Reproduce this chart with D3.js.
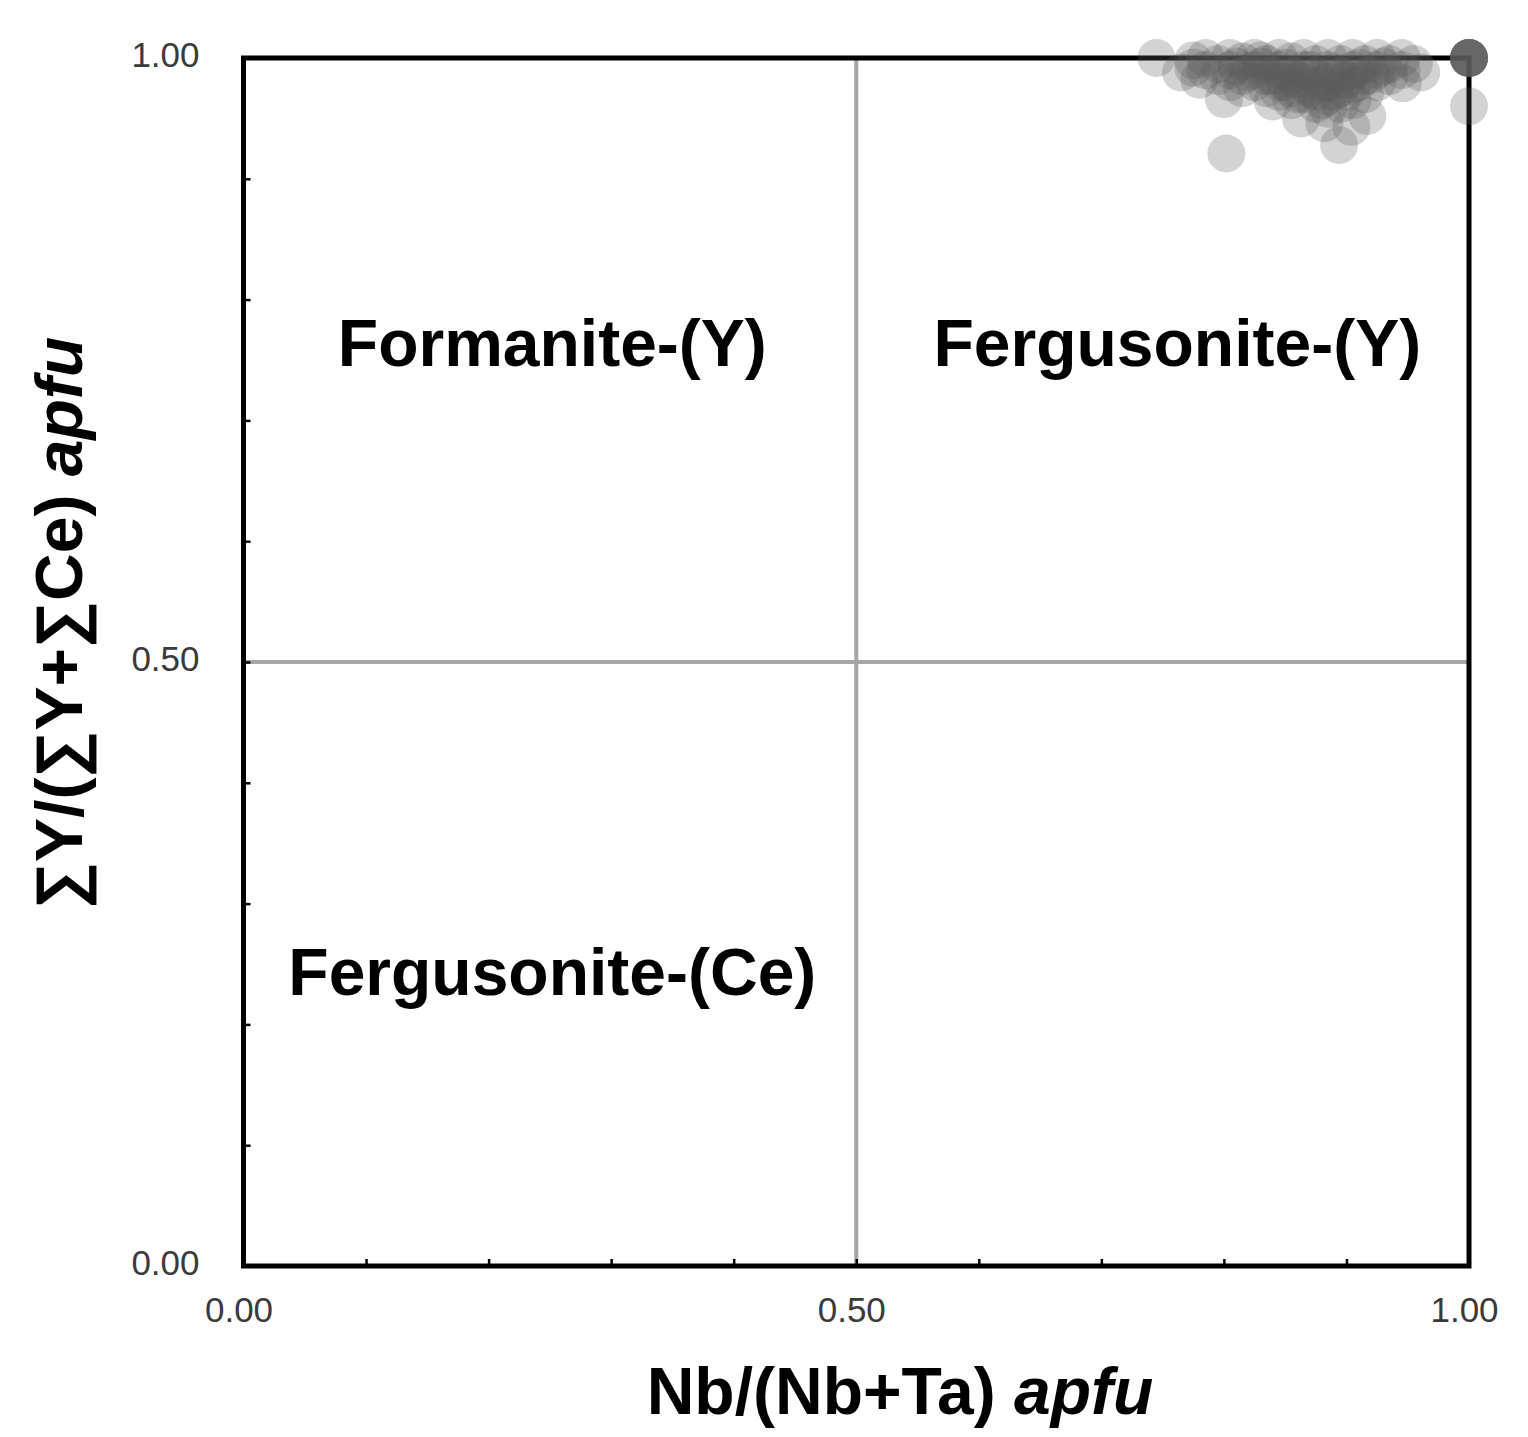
<!DOCTYPE html>
<html>
<head>
<meta charset="utf-8">
<script src="https://cdn.jsdelivr.net/npm/d3@7"></script>
<style>
    body { margin: 0; background: #fff; }
    text { font-family: "Liberation Sans", Arial, sans-serif; }
</style>
</head>
<body>
<div id="chart"></div>
<script>
// Nb/(Nb+Ta) apfu
const nbRatio = [
    0.745, 0.765, 0.780, 0.800, 0.802, 0.840, 0.863, 0.882, 0.894, 0.904, 0.917, 0.946, 0.961, 0.955, 1.000,
    1.000, 1.000, 1.000, 1.000, 1.000, 1.000, 1.000, 1.000,
    0.775, 0.775, 0.785, 0.785, 0.795, 0.795,
    0.805, 0.805, 0.805, 0.815, 0.815, 0.815, 0.825, 0.825, 0.825,
    0.835, 0.835, 0.835, 0.845, 0.845, 0.845, 0.845,
    0.855, 0.855, 0.855, 0.855, 0.865, 0.865, 0.865, 0.865,
    0.875, 0.875, 0.875, 0.875, 0.885, 0.885, 0.885, 0.885, 0.885,
    0.895, 0.895, 0.895, 0.895, 0.905, 0.905, 0.905, 0.905,
    0.915, 0.915, 0.915, 0.925, 0.925, 0.925, 0.935, 0.935, 0.945, 0.945,
    0.810, 0.820, 0.830, 0.840, 0.850, 0.860, 0.870, 0.880, 0.890, 0.900, 0.910, 0.920, 0.930,
    0.830, 0.850, 0.870, 0.890, 0.910, 0.860, 0.880, 0.900
];
// ΣY/(ΣY+ΣCe) apfu
const yRatio = [
    1.000, 0.988, 0.982, 0.966, 0.921, 0.964, 0.950, 0.946, 0.928, 0.943, 0.952, 0.979, 0.988, 0.995, 0.960,
    1.000, 1.000, 1.000, 1.000, 1.000, 1.000, 1.000, 1.000,
    0.998, 0.992, 1.000, 0.990, 0.995, 0.985,
    1.000, 0.990, 0.980, 0.997, 0.985, 0.975, 1.000, 0.990, 0.980,
    0.995, 0.985, 0.975, 1.000, 0.990, 0.980, 0.972,
    0.997, 0.985, 0.975, 0.965, 1.000, 0.990, 0.980, 0.970,
    0.995, 0.985, 0.972, 0.962, 1.000, 0.990, 0.980, 0.968, 0.958,
    0.995, 0.985, 0.975, 0.962, 1.000, 0.990, 0.978, 0.965,
    0.995, 0.985, 0.970, 1.000, 0.990, 0.980, 0.995, 0.985, 1.000, 0.990,
    0.993, 0.988, 0.993, 0.985, 0.992, 0.982, 0.990, 0.978, 0.988, 0.982, 0.992, 0.986, 0.993,
    0.998, 0.980, 0.975, 0.972, 0.980, 0.970, 0.965, 0.972
];
const tickLabels = [0, 0.5, 1];
const minorTicks = [0, 0.1, 0.2, 0.3, 0.4, 0.5, 0.6, 0.7, 0.8, 0.9, 1];
const fieldNames = ['Formanite-(Y)', 'Fergusonite-(Y)', 'Fergusonite-(Ce)'];
const fieldX = [0.252, 0.762, 0.252];
const fieldY = [0.745, 0.745, 0.224];

const width = 1528, height = 1437;
const margin = { top: 58, right: 59, bottom: 171, left: 243.5 };

const svg = d3.select('#chart').append('svg')
    .attr('width', width)
    .attr('height', height);

const x = d3.scaleLinear().domain([0, 1]).range([margin.left, width - margin.right]);
const y = d3.scaleLinear().domain([0, 1]).range([height - margin.bottom, margin.top]);

// Field boundaries at 0.5
svg.append('line')
    .attr('x1', x(0.5)).attr('x2', x(0.5))
    .attr('y1', y(0)).attr('y2', y(1))
    .style('stroke', '#a6a6a6').style('stroke-width', 4);
svg.append('line')
    .attr('x1', x(0)).attr('x2', x(1))
    .attr('y1', y(0.5)).attr('y2', y(0.5))
    .style('stroke', '#a6a6a6').style('stroke-width', 4);

// Minor ticks pointing inward
svg.append('g')
    .attr('transform', `translate(${x(0)},0)`)
    .call(d3.axisRight(y).tickValues(minorTicks).tickSize(7).tickFormat(''))
    .call(g => g.select('.domain').remove())
    .selectAll('line').style('stroke', '#000').style('stroke-width', 2.5);
svg.append('g')
    .attr('transform', `translate(0,${y(0)})`)
    .call(d3.axisTop(x).tickValues(minorTicks).tickSize(7).tickFormat(''))
    .call(g => g.select('.domain').remove())
    .selectAll('line').style('stroke', '#000').style('stroke-width', 2.5);

// Frame
svg.append('rect')
    .attr('x', x(0)).attr('y', y(1))
    .attr('width', x(1) - x(0)).attr('height', y(0) - y(1))
    .style('fill', 'none').style('stroke', '#000').style('stroke-width', 5);

// Tick labels
const yAxis = svg.append('g')
    .attr('transform', `translate(${x(0)},0)`)
    .call(d3.axisLeft(y).tickValues(tickLabels).tickSize(0).tickPadding(44).tickFormat(d3.format('.2f')));
yAxis.select('.domain').remove();
yAxis.selectAll('text')
    .attr('dy', '0.25em')
    .style('font-family', '"Liberation Sans", Arial, sans-serif')
    .style('font-size', '35px').style('fill', '#3a3a3a');

const xAxis = svg.append('g')
    .attr('transform', `translate(0,${y(0)})`)
    .call(d3.axisBottom(x).tickValues(tickLabels).tickSize(0).tickPadding(31).tickFormat(d3.format('.2f')));
xAxis.select('.domain').remove();
xAxis.selectAll('text')
    .attr('dx', -5)
    .style('font-family', '"Liberation Sans", Arial, sans-serif')
    .style('font-size', '35px').style('fill', '#3a3a3a');

// Field names
svg.append('g').selectAll('text')
    .data(fieldNames)
    .join('text')
    .attr('x', (d, i) => x(fieldX[i]))
    .attr('y', (d, i) => y(fieldY[i]))
    .attr('text-anchor', 'middle')
    .style('font-size', '66px').style('font-weight', 'bold')
    .text(d => d);

// Axis titles
const xTitle = svg.append('text')
    .attr('x', 900).attr('y', 1414)
    .attr('text-anchor', 'middle')
    .style('font-size', '66px').style('font-weight', 'bold');
xTitle.append('tspan').text('Nb/(Nb+Ta) ');
xTitle.append('tspan').style('font-style', 'italic').text('apfu');

const yTitle = svg.append('text')
    .attr('transform', 'translate(82,623) rotate(-90)')
    .attr('text-anchor', 'middle')
    .style('font-size', '66px').style('font-weight', 'bold');
yTitle.append('tspan').text('∑Y/(∑Y+∑Ce) ');
yTitle.append('tspan').style('font-style', 'italic').text('apfu');

// Analyses
svg.append('g').selectAll('circle')
    .data(nbRatio)
    .join('circle')
    .attr('cx', d => x(d))
    .attr('cy', (d, i) => y(yRatio[i]))
    .attr('r', 19)
    .style('fill', '#595959')
    .style('fill-opacity', 0.265);
</script>
</body>
</html>
